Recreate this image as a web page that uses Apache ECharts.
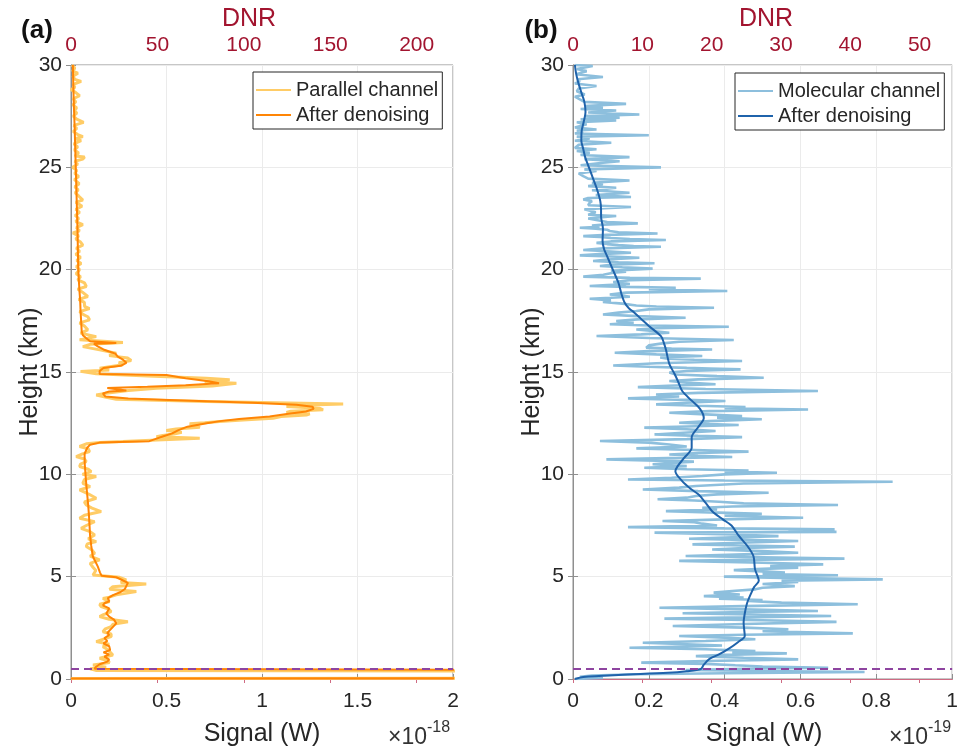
<!DOCTYPE html>
<html><head><meta charset="utf-8">
<script src="https://cdn.jsdelivr.net/npm/echarts@6/dist/echarts.min.js"></script>
<style>html,body{margin:0;padding:0;background:#fff}#c{width:961px;height:753px}</style>
</head><body><div id="c"></div>
<script>
// ---- data: [height (km), signal] ----
// Panel (a): signal in units of 1e-18 W
const parallelChannel = [[30.0,0.005],[29.85,0.02],[29.7,0.008],[29.6,0.036],[29.45,0.01],[29.3,0.02],[29.2,0.053],[29.05,0.012],[28.9,0.02],[28.8,0.0],[28.65,0.025],[28.5,0.045],[28.35,0.012],[28.2,0.025],[28.05,0.01],[27.9,0.03],[27.8,0.018],[27.65,0.03],[27.5,0.012],[27.35,0.03],[27.2,0.066],[27.05,0.015],[26.9,0.03],[26.75,0.012],[26.6,0.035],[26.5,0.062],[26.4,0.02],[26.3,0.053],[26.15,0.015],[26.0,0.035],[25.85,0.018],[25.7,0.04],[25.55,0.02],[25.5,0.071],[25.4,0.062],[25.3,0.02],[25.15,0.035],[25.0,0.008],[24.85,0.03],[24.7,0.02],[24.55,0.04],[24.4,0.018],[24.2,0.043],[24.05,0.02],[23.9,0.038],[23.75,0.022],[23.6,0.04],[23.4,0.062],[23.3,0.025],[23.1,0.058],[22.95,0.025],[22.8,0.045],[22.65,0.022],[22.5,0.04],[22.35,0.025],[22.2,0.062],[22.05,0.028],[21.9,0.045],[21.8,0.01],[21.65,0.04],[21.5,0.025],[21.35,0.05],[21.2,0.062],[21.05,0.028],[20.9,0.045],[20.75,0.025],[20.6,0.05],[20.45,0.03],[20.3,0.053],[20.15,0.028],[20.0,0.045],[19.8,0.027],[19.65,0.05],[19.5,0.035],[19.35,0.071],[19.18,0.08],[19.05,0.035],[18.9,0.06],[18.69,0.088],[18.55,0.04],[18.4,0.07],[18.2,0.071],[18.1,0.097],[17.95,0.045],[17.8,0.065],[17.7,0.088],[17.55,0.097],[17.4,0.045],[17.25,0.07],[17.06,0.088],[16.9,0.05],[16.73,0.132],[16.57,0.045],[16.44,0.272],[16.35,0.1],[16.24,0.062],[16.08,0.15],[15.92,0.237],[15.8,0.2],[15.68,0.298],[15.56,0.315],[15.45,0.25],[15.35,0.272],[15.19,0.15],[15.1,0.2],[15.03,0.05],[14.91,0.132],[14.8,0.4],[14.7,0.709],[14.62,0.831],[14.52,0.7],[14.45,0.866],[14.32,0.74],[14.21,0.447],[14.1,0.3],[13.96,0.184],[13.88,0.132],[13.77,0.184],[13.67,0.237],[13.56,0.709],[13.44,1.425],[13.37,1.2],[13.31,1.128],[13.23,1.3],[13.15,1.32],[13.08,1.15],[13.02,1.128],[12.96,1.25],[12.9,1.232],[12.82,1.1],[12.74,1.058],[12.66,0.9],[12.58,0.778],[12.52,0.7],[12.47,0.621],[12.38,0.66],[12.3,0.674],[12.22,0.55],[12.14,0.499],[12.05,0.58],[11.97,0.54],[11.9,0.48],[11.84,0.447],[11.76,0.674],[11.68,0.45],[11.6,0.272],[11.55,0.15],[11.49,0.08],[11.36,0.045],[11.25,0.09],[11.11,0.097],[11.0,0.06],[10.87,0.027],[10.75,0.07],[10.62,0.08],[10.5,0.05],[10.38,0.045],[10.25,0.09],[10.13,0.106],[10.0,0.06],[9.89,0.132],[9.75,0.07],[9.56,0.062],[9.4,0.1],[9.24,0.045],[9.05,0.09],[8.83,0.132],[8.65,0.07],[8.5,0.08],[8.35,0.11],[8.18,0.158],[8.0,0.07],[7.85,0.045],[7.69,0.124],[7.5,0.08],[7.36,0.053],[7.2,0.1],[7.04,0.124],[6.85,0.09],[6.71,0.132],[6.6,0.085],[6.47,0.08],[6.3,0.11],[6.14,0.124],[6.0,0.1],[5.82,0.15],[5.65,0.1],[5.46,0.115],[5.3,0.13],[5.08,0.115],[4.97,0.254],[4.84,0.289],[4.72,0.26],[4.64,0.394],[4.51,0.219],[4.38,0.202],[4.27,0.342],[4.11,0.237],[4.0,0.2],[3.94,0.167],[3.78,0.202],[3.65,0.15],[3.54,0.158],[3.4,0.2],[3.29,0.21],[3.15,0.17],[3.05,0.15],[2.92,0.2],[2.8,0.298],[2.68,0.22],[2.56,0.21],[2.45,0.18],[2.31,0.167],[2.2,0.21],[2.07,0.21],[1.95,0.17],[1.83,0.132],[1.7,0.2],[1.58,0.167],[1.45,0.19],[1.34,0.202],[1.17,0.219],[1.01,0.15],[0.9,0.19],[0.8,0.202],[0.68,0.115],[0.57,0.184],[0.5,0.1],[0.42,0.13],[0.36,5],[0.2,8],[0.05,5],[0.02,0.01],[0,0]];

const parallelDenoised = [[30,0.01],[29,0.012],[28,0.015],[27,0.019],[26,0.022],[25,0.025],[24,0.028],[23,0.031],[22,0.034],[21,0.036],[20,0.038],[19.5,0.041],[19,0.044],[18.5,0.048],[18,0.05],[17.5,0.053],[17.0,0.056],[16.8,0.062],[16.65,0.08],[16.5,0.1],[16.42,0.237],[16.38,0.12],[16.25,0.14],[16.1,0.17],[16.0,0.2],[15.9,0.232],[15.75,0.245],[15.6,0.272],[15.45,0.29],[15.3,0.26],[15.2,0.17],[15.05,0.15],[14.9,0.15],[14.85,0.5],[14.7,0.6],[14.55,0.72],[14.45,0.775],[14.35,0.6],[14.28,0.4],[14.22,0.19],[14.15,0.2],[14.1,0.29],[14.05,0.2],[13.95,0.167],[13.8,0.18],[13.7,0.3],[13.62,0.55],[13.5,0.95],[13.4,1.18],[13.3,1.265],[13.2,1.27],[13.07,1.23],[12.95,1.13],[12.83,1.04],[12.7,0.88],[12.6,0.78],[12.5,0.71],[12.33,0.61],[12.15,0.56],[12.0,0.53],[11.85,0.48],[11.72,0.44],[11.62,0.41],[11.55,0.15],[11.45,0.1],[11.3,0.085],[11.0,0.071],[10.5,0.072],[10.0,0.076],[9.5,0.08],[9.0,0.085],[8.5,0.09],[8.0,0.094],[7.5,0.097],[7.0,0.1],[6.5,0.106],[6.0,0.114],[5.5,0.14],[5.2,0.152],[5.05,0.16],[4.97,0.237],[4.85,0.265],[4.7,0.298],[4.55,0.29],[4.4,0.282],[4.25,0.26],[4.1,0.22],[3.95,0.193],[3.8,0.2],[3.7,0.175],[3.6,0.167],[3.45,0.2],[3.37,0.19],[3.2,0.185],[3.05,0.2],[2.9,0.225],[2.72,0.237],[2.55,0.22],[2.4,0.205],[2.25,0.19],[2.15,0.2],[2.0,0.175],[1.85,0.19],[1.74,0.17],[1.6,0.2],[1.42,0.205],[1.3,0.17],[1.2,0.2],[1.09,0.175],[0.95,0.2],[0.85,0.19],[0.72,0.15],[0.6,0.132],[0.5,0.123],[0.42,0.12],[0.37,5],[0.2,8],[0.06,5],[0.03,0.005],[0,0]];

// Panel (b): signal in units of 1e-19 W
const molecularChannel = [[30.0,0.005],[29.95,0.052],[29.8,0.01],[29.7,0.036],[29.55,0.008],[29.41,0.079],[29.3,0.012],[29.2,0.018],[29.1,0.005],[28.97,0.062],[28.85,0.015],[28.72,0.01],[28.56,0.031],[28.45,0.005],[28.32,0.018],[28.2,0.03],[28.1,0.14],[28.0,0.03],[27.91,0.079],[27.85,0.02],[27.78,0.114],[27.68,0.04],[27.58,0.175],[27.5,0.03],[27.42,0.123],[27.35,0.02],[27.29,0.114],[27.2,0.01],[27.1,0.036],[26.95,0.005],[26.85,0.062],[26.8,0.01],[26.74,0.027],[26.65,0.005],[26.57,0.2],[26.5,0.01],[26.41,0.044],[26.3,0.005],[26.2,0.101],[26.1,0.015],[26.04,0.018],[25.95,0.005],[25.88,0.062],[25.8,0.01],[25.71,0.044],[25.6,0.02],[25.5,0.149],[25.4,0.03],[25.3,0.123],[25.22,0.079],[25.1,0.02],[25.0,0.232],[24.9,0.03],[24.82,0.062],[24.7,0.015],[24.57,0.027],[24.45,0.04],[24.36,0.149],[24.25,0.05],[24.17,0.079],[24.08,0.04],[24.0,0.114],[23.88,0.05],[23.76,0.149],[23.65,0.06],[23.55,0.153],[23.5,0.04],[23.43,0.027],[23.35,0.05],[23.27,0.044],[23.15,0.04],[23.06,0.153],[22.95,0.03],[22.86,0.027],[22.8,0.06],[22.73,0.062],[22.68,0.04],[22.62,0.114],[22.5,0.04],[22.41,0.044],
[22.33,0.09],[22.26,0.171],[22.2,0.08],[22.15,0.05],[22.1,0.07],[22.05,0.018],[22.0,0.06],[21.95,0.09],[21.89,0.097],[21.83,0.12],[21.77,0.223],[21.7,0.09],[21.64,0.027],[21.6,0.07],[21.55,0.1],[21.5,0.15],[21.45,0.245],[21.38,0.1],[21.31,0.062],[21.25,0.09],[21.2,0.12],[21.16,0.16],[21.12,0.232],[21.04,0.08],[20.96,0.027],[20.9,0.09],[20.83,0.153],[20.76,0.07],[20.7,0.018],[20.64,0.1],[20.58,0.175],[20.5,0.09],[20.42,0.053],[20.36,0.12],[20.31,0.215],[20.24,0.1],[20.18,0.071],[20.12,0.13],[20.05,0.21],[19.95,0.1],[19.9,0.14],[19.85,0.106],[19.75,0.08],[19.66,0.027],[19.6,0.15],[19.56,0.337],[19.48,0.15],[19.4,0.106],[19.35,0.13],[19.3,0.15],[19.25,0.09],[19.2,0.044],[19.16,0.14],[19.12,0.271],[19.04,0.2],[18.96,0.407],[18.88,0.14],[18.79,0.097],[18.74,0.13],[18.68,0.15],[18.63,0.1],[18.58,0.044],[18.5,0.1],[18.42,0.079],[18.34,0.13],[18.25,0.167],[18.2,0.22],[18.14,0.372],[18.06,0.2],[17.98,0.167],[17.9,0.12],[17.81,0.079],[17.73,0.17],[17.65,0.297],[17.57,0.17],[17.49,0.114],[17.41,0.16],[17.33,0.097],[17.27,0.2],[17.21,0.411],[17.14,0.22],[17.08,0.167],[17.0,0.21],[16.92,0.254],[16.84,0.18],[16.76,0.062],[16.66,0.2],[16.56,0.424],[16.48,0.28],[16.4,0.236],[16.3,0.2],[16.19,0.193],[16.14,0.26],[16.1,0.367],[16.02,0.2],[15.94,0.11],[15.86,0.22],[15.78,0.341],[15.71,0.23],[15.65,0.25],[15.6,0.32],[15.54,0.446],[15.43,0.22],[15.32,0.106],[15.26,0.2],[15.2,0.3],[15.17,0.36],[15.13,0.442],[15.05,0.3],[14.97,0.254],
[14.88,0.271],[14.8,0.38],[14.72,0.503],[14.64,0.33],[14.56,0.254],[14.48,0.3],[14.4,0.376],[14.33,0.25],[14.26,0.171],[14.17,0.35],[14.07,0.646],[13.98,0.33],[13.9,0.219],[13.8,0.28],[13.71,0.145],[13.64,0.3],[13.58,0.402],[13.5,0.3],[13.42,0.219],[13.35,0.33],[13.29,0.455],[13.23,0.4],[13.17,0.62],[13.09,0.36],[13.01,0.254],[12.93,0.35],[12.85,0.446],[12.77,0.38],[12.69,0.498],[12.6,0.36],[12.52,0.28],[12.46,0.36],[12.41,0.437],[12.34,0.3],[12.28,0.188],[12.2,0.3],[12.12,0.376],[12.03,0.29],[11.95,0.215],[11.88,0.33],[11.82,0.446],[11.72,0.3],[11.63,0.071],[11.55,0.2],[11.46,0.254],[11.36,0.3],[11.27,0.167],[11.19,0.32],[11.11,0.463],[11.04,0.33],[10.97,0.254],[10.91,0.33],[10.85,0.42],[10.79,0.25],[10.73,0.088],[10.67,0.22],[10.62,0.319],[10.55,0.26],[10.49,0.21],[10.4,0.3],[10.32,0.188],[10.25,0.3],[10.19,0.463],[10.13,0.4],[10.08,0.538],[10.0,0.4],[9.92,0.341],[9.83,0.26],[9.75,0.145],[9.7,0.4],[9.64,0.843],[9.55,0.45],[9.43,0.324],[9.35,0.28],[9.26,0.184],[9.18,0.33],[9.1,0.516],[9.02,0.38],[8.94,0.324],[8.86,0.3],[8.78,0.223],[8.72,0.32],[8.66,0.385],[8.58,0.45],[8.5,0.699],[8.43,0.42],[8.37,0.341],[8.28,0.38],[8.2,0.245],[8.14,0.36],[8.07,0.498],[7.98,0.4],[7.88,0.607],[7.8,0.4],[7.72,0.236],[7.66,0.32],[7.59,0.341],[7.5,0.38],[7.42,0.145],[7.36,0.4],[7.31,0.69],
[7.23,0.568],[7.19,0.695],[7.15,0.215],[7.06,0.42],[6.98,0.542],[6.92,0.42],[6.85,0.306],[6.8,0.45],[6.74,0.594],[6.66,0.44],[6.58,0.315],[6.52,0.45],[6.47,0.585],[6.4,0.45],[6.33,0.367],[6.25,0.5],[6.17,0.594],[6.09,0.45],[6.01,0.297],[5.95,0.5],[5.88,0.716],[5.82,0.45],[5.77,0.28],[5.68,0.5],[5.6,0.66],[5.52,0.52],[5.44,0.594],[5.38,0.5],[5.32,0.424],[5.26,0.5],[5.2,0.559],[5.13,0.5],[5.07,0.699],[5.03,0.55],[5.0,0.398],[4.94,0.55],[4.87,0.817],[4.8,0.55],[4.74,0.594],[4.64,0.5],[4.54,0.585],[4.46,0.5],[4.38,0.481],[4.3,0.42],[4.22,0.371],[4.13,0.44],[4.05,0.345],[3.98,0.45],[3.92,0.385],[3.86,0.5],[3.81,0.463],[3.73,0.55],[3.65,0.751],[3.56,0.45],[3.48,0.228],[3.4,0.45],[3.32,0.646],[3.27,0.45],[3.21,0.289],[3.14,0.5],[3.08,0.681],[3.01,0.45],[2.95,0.241],[2.87,0.5],[2.79,0.695],[2.69,0.45],[2.59,0.263],[2.51,0.45],[2.43,0.568],[2.33,0.5],[2.23,0.738],[2.16,0.45],[2.1,0.28],[2.02,0.4],[1.94,0.481],[1.86,0.35],[1.77,0.184],[1.7,0.3],[1.64,0.393],[1.58,0.3],[1.53,0.149],[1.45,0.35],[1.37,0.481],[1.31,0.42],[1.25,0.564],[1.18,0.4],[1.12,0.324],[1.04,0.45],[0.96,0.594],[0.88,0.35],[0.8,0.18],[0.74,0.35],[0.67,0.428],[0.61,0.5],[0.55,0.673],[0.5,0.45],[0.44,0.297],[0.39,0.5],[0.34,0.769],[0.28,0.4],[0.23,0.167],[0.17,0.05],[0.11,0.018],[0.05,0.079],[0.0,0.005]];

const molecularDenoised = [[30.0,0.005],[29.6,0.008],[29.2,0.013],[28.6,0.023],[28.2,0.03],[27.7,0.033],[27.2,0.028],[26.8,0.023],[26.3,0.022],[25.9,0.027],[25.5,0.032],[25.0,0.042],[24.5,0.052],[24.0,0.062],[23.35,0.072],[22.9,0.074],[22.6,0.074],[22.0,0.079],[21.4,0.078],[21.0,0.082],[20.7,0.089],[20.0,0.105],[19.35,0.12],[18.8,0.128],[18.4,0.136],[18.1,0.148],[17.9,0.162],[17.5,0.185],[17.25,0.2],[16.75,0.232],[16.4,0.24],[16.1,0.245],[15.4,0.254],[14.9,0.268],[14.5,0.278],[14.07,0.288],[13.6,0.313],[13.2,0.335],[12.75,0.345],[12.3,0.33],[11.8,0.313],[11.3,0.313],[10.8,0.293],[10.4,0.276],[10.15,0.27],[9.67,0.288],[9.3,0.31],[9.0,0.332],[8.6,0.35],[8.2,0.367],[7.8,0.395],[7.5,0.418],[7.0,0.437],[6.5,0.46],[6.0,0.476],[5.37,0.48],[4.8,0.49],[4.5,0.478],[4.2,0.47],[3.7,0.459],[3.2,0.453],[2.75,0.45],[2.1,0.453],[1.8,0.435],[1.47,0.41],[1.2,0.385],[0.98,0.36],[0.7,0.345],[0.49,0.337],[0.38,0.3],[0.3,0.25],[0.2,0.12],[0.1,0.027],[0.0,0.005]];

const overlapHeight = 0.5;
const dnrMaxA = 221, dnrMaxB = 54.7;

// ---- chart ----
const toXY = arr => arr.map(p => [p[1], p[0]]);
const FONT = 'Liberation Sans, Arial, sans-serif';
const TXT = '#262626', GRID = '#ebebeb', FRAME = '#8f8f8f', RED = '#A2142F';
const LA = '#FFCC66', DA = '#FF8505', LB = '#8DBFDD', DB = '#1F63AB';

function bottomAxis(gi, max, interval) {
  return { type: 'value', gridIndex: gi, position: 'bottom', min: 0, max: max, interval: interval,
    axisLine: { show: true, lineStyle: { color: FRAME, width: 1 } },
    axisTick: { show: true, inside: true, length: 5, lineStyle: { color: FRAME } },
    axisLabel: { color: TXT, fontSize: 21, margin: 12, fontFamily: FONT },
    splitLine: { show: true, lineStyle: { color: GRID, width: 1 } } };
}
function topAxis(gi, max, interval) {
  return { type: 'value', gridIndex: gi, position: 'top', min: 0, max: max, interval: interval,
    axisLine: { show: true, lineStyle: { color: '#cf6b83', width: 1 } },
    axisTick: { show: true, inside: true, length: 4, lineStyle: { color: '#cf6b83' } },
    axisLabel: { color: RED, fontSize: 21, margin: 9, fontFamily: FONT, showMaxLabel: false },
    splitLine: { show: false } };
}
function leftAxis(gi) {
  return { type: 'value', gridIndex: gi, position: 'left', min: 0, max: 30, interval: 5,
    axisLine: { show: true, lineStyle: { color: FRAME, width: 1 } },
    axisTick: { show: true, inside: true, length: 5, lineStyle: { color: FRAME } },
    axisLabel: { color: TXT, fontSize: 21, margin: 9, fontFamily: FONT },
    splitLine: { show: true, lineStyle: { color: GRID, width: 1 } } };
}
function rightAxis(gi) {
  return { type: 'value', gridIndex: gi, position: 'right', min: 0, max: 30, interval: 5,
    axisLine: { show: false }, axisLabel: { show: false }, splitLine: { show: false },
    axisTick: { show: true, inside: true, length: 5, lineStyle: { color: FRAME } } };
}
const dashLine = { silent: true, symbol: ['none', 'none'], label: { show: false },
  lineStyle: { type: [8, 5], color: '#8E44A0', width: 2 }, data: [{ yAxis: overlapHeight }] };

function legendCfg(left, top, names) {
  return { orient: 'vertical', left: left, top: top, data: names, icon: 'rect',
    itemWidth: 35, itemHeight: 2, itemGap: 5, padding: [8, 4, 4, 3],
    borderColor: TXT, borderWidth: 1, backgroundColor: '#fff', selectedMode: false,
    textStyle: { color: TXT, fontSize: 20, fontFamily: FONT } };
}
function txt(x, y, s, size, color, extra, align) {
  const a = align || 'center';
  return Object.assign({ type: 'text', x: x, y: y, z: 100,
    style: { text: s, fontSize: size, fill: color, fontFamily: FONT,
      align: a, verticalAlign: 'middle', textAlign: a, textVerticalAlign: 'middle' } }, extra || {});
}
function bold(x, y, s) {
  const t = txt(x, y, s, 26, '#111');
  t.style.fontWeight = 'bold';
  return t;
}

const chart = echarts.init(document.getElementById('c'), null, { renderer: 'canvas' });
chart.setOption({
  animation: false,
  backgroundColor: '#fff',
  textStyle: { fontFamily: FONT },
  grid: [
    { left: 71, top: 65, width: 382, height: 614, show: true, borderColor: FRAME, borderWidth: 1, backgroundColor: 'transparent' },
    { left: 573, top: 65, width: 382, height: 614, show: true, borderColor: FRAME, borderWidth: 1, backgroundColor: 'transparent' }
  ],
  xAxis: [ bottomAxis(0, 2, 0.5), topAxis(0, dnrMaxA, 50), bottomAxis(1, 1, 0.2), topAxis(1, dnrMaxB, 10) ],
  yAxis: [ leftAxis(0), rightAxis(0), leftAxis(1), rightAxis(1) ],
  legend: [
    legendCfg(253, 72, ['Parallel channel', 'After denoising']),
    legendCfg(735, 73, ['Molecular channel', 'After denoising '])
  ],
  series: [
    { name: 'Parallel channel', type: 'line', xAxisIndex: 0, yAxisIndex: 0, data: toXY(parallelChannel),
      symbol: 'none', lineStyle: { color: LA, width: 3 }, itemStyle: { color: LA }, z: 2 },
    { name: 'After denoising', type: 'line', xAxisIndex: 0, yAxisIndex: 0, data: toXY(parallelDenoised),
      symbol: 'none', lineStyle: { color: DA, width: 2 }, itemStyle: { color: DA }, z: 3, markLine: dashLine },
    { name: 'Molecular channel', type: 'line', xAxisIndex: 2, yAxisIndex: 2, data: toXY(molecularChannel),
      symbol: 'none', lineStyle: { color: LB, width: 2.6 }, itemStyle: { color: LB }, z: 2 },
    { name: 'After denoising ', type: 'line', xAxisIndex: 2, yAxisIndex: 2, data: toXY(molecularDenoised),
      symbol: 'none', smooth: 0.3, lineStyle: { color: DB, width: 2 }, itemStyle: { color: DB }, z: 3, markLine: dashLine }
  ],
  graphic: [
    bold(37, 31, '(a)'), bold(541, 31, '(b)'),
    txt(249, 19, 'DNR', 25, RED), txt(766, 19, 'DNR', 25, RED),
    txt(262, 734, 'Signal (W)', 25, TXT), txt(764, 734, 'Signal (W)', 25, TXT),
    txt(30, 372, 'Height (km)', 25, TXT, { rotation: Math.PI / 2 }),
    txt(532, 372, 'Height (km)', 25, TXT, { rotation: Math.PI / 2 }),
    txt(427, 738, '\u00d710', 23, '#333', null, 'right'), txt(427, 728, '-18', 16, '#333', null, 'left'),
    txt(928, 738, '\u00d710', 23, '#333', null, 'right'), txt(928, 728, '-19', 16, '#333', null, 'left')
  ]
});
</script></body></html>
